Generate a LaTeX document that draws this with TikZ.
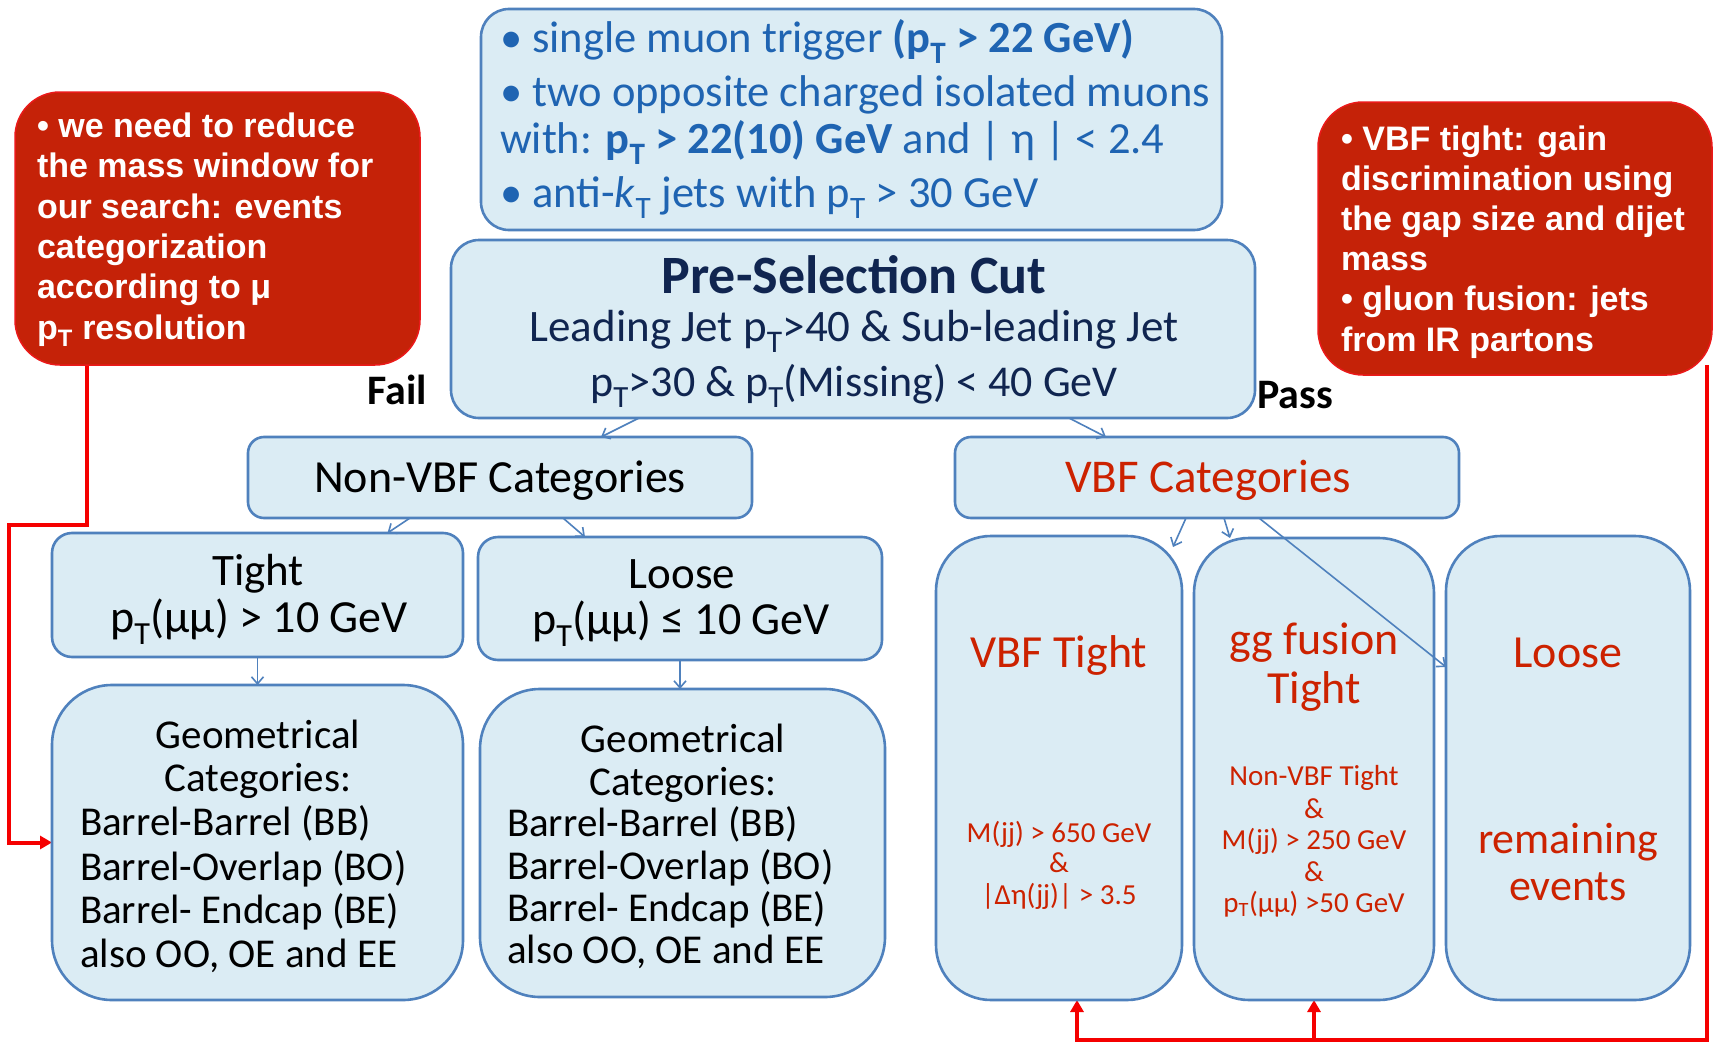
\documentclass[tikz,border=0pt]{standalone}
\usepackage{fontspec}
\setmainfont{Carlito}
\newfontfamily\arialfont{Liberation Sans}
\usetikzlibrary{arrows.meta,backgrounds,calc}
\definecolor{boxfill}{RGB}{219,236,244}
\definecolor{boxblue}{RGB}{79,129,189}
\definecolor{topblue}{RGB}{31,100,178}
\definecolor{navy}{RGB}{16,37,80}
\definecolor{vred}{RGB}{204,34,0}
\definecolor{redfill}{RGB}{197,34,8}
\definecolor{rededge}{RGB}{235,25,25}
\definecolor{redline}{RGB}{245,0,0}
\newcommand\myfs[1]{\fontsize{#1}{#1}\selectfont}
\newcommand\Ts{\textsubscript{T}}
\begin{document}
\begin{tikzpicture}[x=1pt,y=-1pt,
  bbox/.style={draw=boxblue, line width=2.6pt, fill=boxfill, inner sep=0, outer sep=0, anchor=north west},
  rbox/.style={draw=rededge, line width=1.5pt, fill=redfill, inner sep=0, outer sep=0, anchor=north west, rounded corners=45pt},
  conn/.style={draw=boxblue, line width=1.6pt, -{Straight Barb[length=7pt,width=12pt,line width=1.6pt]}},
  rarr/.style={draw=redline, line width=4pt, -{Triangle[length=12pt,width=13pt]}},
  tx/.style={inner sep=0, outer sep=0},
  rtx/.style={tx, anchor=base west, text=white, font=\myfs{34}\arialfont\bfseries},
]
\useasboundingbox (0,0) rectangle (1714,1044);
% boxes
\node[bbox, rounded corners=28pt, minimum width=741pt, minimum height=221pt] (topbox) at (481,9) {};
\node[bbox, rounded corners=28pt, minimum width=804pt, minimum height=178pt] (pre) at (451,240) {};
\node[rbox, minimum width=405pt, minimum height=273pt] (redL) at (15,92) {};
\node[rbox, minimum width=394pt, minimum height=273pt] (redR) at (1318,102) {};
\node[bbox, rounded corners=16pt, minimum width=504pt, minimum height=81pt] (nonvbf) at (248,437) {};
\node[bbox, rounded corners=16pt, minimum width=504pt, minimum height=81pt] (vbf) at (955,437) {};
\node[bbox, rounded corners=20pt, minimum width=411pt, minimum height=124pt] (tight) at (52,533) {};
\node[bbox, rounded corners=20pt, minimum width=404pt, minimum height=123pt] (loose) at (478,537) {};
\node[bbox, rounded corners=60pt, minimum width=411pt, minimum height=315pt] (geoL) at (52,685) {};
\node[bbox, rounded corners=60pt, minimum width=405pt, minimum height=308pt] (geoR) at (480,689) {};
\node[bbox, rounded corners=55pt, minimum width=246pt, minimum height=464pt] (vbft) at (936,536) {};
\node[bbox, rounded corners=55pt, minimum width=240pt, minimum height=462pt] (ggf) at (1194,538) {};
\node[bbox, rounded corners=55pt, minimum width=244pt, minimum height=464pt] (loosev) at (1446,536) {};

% red connectors
\coordinate (rl1) at (9,525);
\coordinate (rbot) at (1077,1040);
\begin{scope}[on background layer]
\fill[white] (0,0) rectangle (1714,1044);
\draw[rarr] ([xshift=-130.5pt,yshift=4pt]redL.south) |- (rl1) |- (geoL.west);
\draw[rarr] ([xshift=-5pt,yshift=10pt]redR.south east) |- (rbot) -- (rbot |- vbft.south);
\draw[rarr] (ggf.south |- rbot) -- (ggf.south);
\end{scope}

% blue connectors
\draw[conn] ([xshift=-214pt]pre.south) -- ([xshift=101pt]nonvbf.north);
\draw[conn] ([xshift=216pt]pre.south) -- ([xshift=-101pt]vbf.north);
\draw[conn] ([xshift=-90pt]nonvbf.south) -- ([xshift=130pt]tight.north);
\draw[conn] ([xshift=63pt]nonvbf.south) -- ([xshift=-95pt]loose.north);
\draw[conn] (tight.south) -- (tight.south |- geoL.north);
\draw[conn] (loose.south) -- (loose.south |- geoR.north);
\draw[conn] ([xshift=-21pt]vbf.south) -- ([xshift=-9pt,yshift=-11pt]vbft.north east);
\draw[conn] ([xshift=17pt]vbf.south) -- ([xshift=-84pt]ggf.north);
\draw[conn] ([xshift=52pt]vbf.south) -- ([yshift=101pt]loosev.west);

% top box text
\begin{scope}[every node/.style={tx, anchor=base west, text=topblue, font=\myfs{44.5}}]
\node (t1) at (500,52) {• single muon trigger \textbf{(p\Ts{} > 22 GeV)}};
\node (t2) at (500,106) {• two opposite charged isolated muons};
\node (t3) at (500,153) {with: \textbf{p\Ts{} > 22(10) GeV} and | η | < 2.4};
\node (t4) at (500,207) {• anti-\textit{k}\Ts{} jets with p\Ts{} > 30 GeV};
\end{scope}

% pre-selection text
\node[tx, anchor=base, text=navy, font=\myfs{54}\bfseries] (preT) at (854,293) {Pre-Selection Cut};
\node[tx, anchor=base, text=navy, font=\myfs{45}] (preL1) at (854,341) {Leading Jet p\Ts>40 \& Sub-leading Jet};
\node[tx, anchor=base, text=navy, font=\myfs{44}] (preL2) at (854,396) {p\Ts>30 \& p\Ts(Missing) < 40 GeV};

\node[tx, anchor=base, font=\myfs{42}\bfseries] (fail) at (397,404) {Fail};
\node[tx, anchor=base, font=\myfs{42}\bfseries] (pass) at (1295,408) {Pass};

\node[tx, anchor=base, font=\myfs{46}] (nonvbfT) at (500,492) {Non-VBF Categories};
\node[tx, anchor=base, text=vred, font=\myfs{47}] (vbfT) at (1208,492) {VBF Categories};

\node[tx, anchor=base, font=\myfs{45}] (tightT) at (258,585) {Tight};
\node[tx, anchor=base, font=\myfs{46}] (tightC) at (259,632) {p\Ts(μμ) > 10 GeV};
\node[tx, anchor=base, font=\myfs{45}] (looseT) at (682,588) {Loose};
\node[tx, anchor=base, font=\myfs{46}] (looseC) at (681,634) {p\Ts(μμ) ≤ 10 GeV};

% geometrical categories
\begin{scope}[every node/.style={tx, font=\myfs{41}}]
\node[anchor=base] (gL1) at (258,748) {Geometrical};
\node[anchor=base] (gL2) at (258,791) {Categories:};
\node[anchor=base west] (gL3) at (80,835) {Barrel-Barrel (BB)};
\node[anchor=base west] (gL4) at (80,880) {Barrel-Overlap (BO)};
\node[anchor=base west] (gL5) at (80,923) {Barrel- Endcap (BE)};
\node[anchor=base west] (gL6) at (80,967) {also OO, OE and EE};
\node[anchor=base] (gR1) at (683,752) {Geometrical};
\node[anchor=base] (gR2) at (683,795) {Categories:};
\node[anchor=base west] (gR3) at (507,836) {Barrel-Barrel (BB)};
\node[anchor=base west] (gR4) at (507,879) {Barrel-Overlap (BO)};
\node[anchor=base west] (gR5) at (507,921) {Barrel- Endcap (BE)};
\node[anchor=base west] (gR6) at (507,963) {also OO, OE and EE};
\end{scope}

% VBF subcategories
\begin{scope}[every node/.style={tx, anchor=base, text=vred}]
\node[font=\myfs{46}] (vtT) at (1059,667) {VBF Tight};
\node[font=\myfs{29}] (vt1) at (1059,842) {M(jj) > 650 GeV};
\node[font=\myfs{29}] (vt2) at (1059,872) {\&};
\node[font=\myfs{29}] (vt3) at (1059,904) {|Δη(jj)| > 3.5};
\node[font=\myfs{46}] (ggT1) at (1314,654) {gg fusion};
\node[font=\myfs{46}] (ggT2) at (1314,703) {Tight};
\node[font=\myfs{29}] (gg1) at (1314,785) {Non-VBF Tight};
\node[font=\myfs{29}] (gg2) at (1314,818) {\&};
\node[font=\myfs{29}] (gg3) at (1314,849) {M(jj) > 250 GeV};
\node[font=\myfs{29}] (gg4) at (1314,881) {\&};
\node[font=\myfs{29}] (gg5) at (1314,912) {p\Ts(μμ) >50 GeV};
\node[font=\myfs{46}] (lvT) at (1568,667) {Loose};
\node[font=\myfs{44}] (lv1) at (1568,853) {remaining};
\node[font=\myfs{44}] (lv2) at (1568,900) {events};
\end{scope}

% red boxes text
\node[rtx] (rl1t) at (37,137) {• we need to reduce};
\node[rtx] (rl2t) at (37,177) {the mass window for};
\node[rtx] (rl3t) at (37,218) {our search: events};
\node[rtx] (rl4t) at (37,258) {categorization};
\node[rtx] (rl5t) at (37,298) {according to μ};
\node[rtx] (rl6t) at (37,339) {p\Ts{} resolution};
\node[rtx] (rr1t) at (1341,150) {• VBF tight: gain};
\node[rtx] (rr2t) at (1341,190) {discrimination using};
\node[rtx] (rr3t) at (1341,230) {the gap size and dijet};
\node[rtx] (rr4t) at (1341,270) {mass};
\node[rtx] (rr5t) at (1341,310) {• gluon fusion: jets};
\node[rtx] (rr6t) at (1341,351) {from IR partons};
\end{tikzpicture}
\end{document}
